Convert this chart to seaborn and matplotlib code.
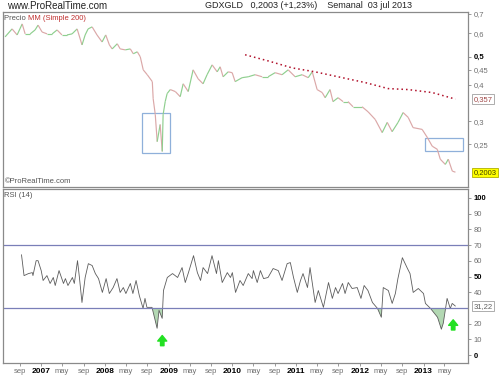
import numpy as np
import pandas as pd
import seaborn as sns
import matplotlib
matplotlib.use('Agg')
import matplotlib.pyplot as plt
import matplotlib.dates as mdates
from matplotlib.collections import LineCollection
from matplotlib.patches import Rectangle

# weekly closes (GDX / GLD ratio)
price_dates = ['2006-06-08', '2006-07-18', '2006-08-16', '2006-09-14', '2006-10-01', '2006-10-30',
               '2006-11-27', '2006-12-14', '2007-01-06', '2007-02-04', '2007-03-05', '2007-04-02',
               '2007-04-30', '2007-05-29', '2007-06-27', '2007-07-26', '2007-08-23', '2007-09-10',
               '2007-09-27', '2007-10-20', '2007-11-17', '2007-12-16', '2008-01-06', '2008-01-27',
               '2008-02-12', '2008-03-12', '2008-03-29', '2008-04-27', '2008-05-26', '2008-06-12',
               '2008-07-05', '2008-07-22', '2008-08-08', '2008-08-31', '2008-09-29', '2008-10-04',
               '2008-10-16', '2008-10-27', '2008-11-13', '2008-11-25', '2008-11-30', '2008-12-12',
               '2008-12-23', '2009-01-10', '2009-02-08', '2009-03-08', '2009-03-25', '2009-04-23',
               '2009-05-21', '2009-06-19', '2009-07-17', '2009-08-09', '2009-09-07', '2009-10-06',
               '2009-10-23', '2009-11-09', '2009-12-08', '2009-12-31', '2010-01-17', '2010-02-26',
               '2010-04-02', '2010-05-11', '2010-06-21', '2010-07-25', '2010-09-03', '2010-10-13',
               '2010-11-17', '2010-12-27', '2011-02-05', '2011-03-12', '2011-04-04', '2011-05-02',
               '2011-05-31', '2011-06-17', '2011-07-15', '2011-08-01', '2011-08-30', '2011-09-28',
               '2011-10-26', '2011-11-24', '2012-01-15', '2012-02-18', '2012-03-30', '2012-05-09',
               '2012-06-07', '2012-07-05', '2012-08-08', '2012-09-06', '2012-10-05', '2012-11-02',
               '2012-12-24', '2013-01-22', '2013-02-20', '2013-03-21', '2013-04-07', '2013-05-06',
               '2013-05-23', '2013-06-15', '2013-07-03']
price_close = [0.584, 0.622, 0.593, 0.647, 0.598, 0.598,
               0.617, 0.641, 0.607, 0.598, 0.598, 0.617,
               0.593, 0.593, 0.598, 0.622, 0.548, 0.593,
               0.622, 0.632, 0.593, 0.561, 0.593, 0.548,
               0.531, 0.553, 0.531, 0.527, 0.531, 0.511,
               0.519, 0.499, 0.450, 0.433, 0.410, 0.358,
               0.316, 0.255, 0.292, 0.236, 0.316, 0.350,
               0.373, 0.385, 0.379, 0.364, 0.403, 0.379,
               0.450, 0.419, 0.403, 0.433, 0.468, 0.443,
               0.461, 0.426, 0.443, 0.440, 0.410, 0.423,
               0.426, 0.433, 0.426, 0.426, 0.440, 0.433,
               0.450, 0.426, 0.433, 0.423, 0.443, 0.385,
               0.376, 0.361, 0.385, 0.350, 0.361, 0.350,
               0.350, 0.336, 0.336, 0.323, 0.304, 0.274,
               0.297, 0.276, 0.297, 0.321, 0.309, 0.285,
               0.281, 0.264, 0.246, 0.240, 0.222, 0.213,
               0.222, 0.202, 0.2003]

# 200 period simple moving average (only drawn where it exists)
ma_dates = ['2010-03-15', '2010-07-25', '2010-12-10', '2011-04-20', '2011-08-30',
            '2012-02-01', '2012-06-12', '2012-10-05', '2013-02-20', '2013-07-03']
ma_values = [0.507, 0.483, 0.457, 0.443, 0.426, 0.407, 0.388, 0.385, 0.376, 0.357]

# RSI(14), x as decimal years
rsi_years = [2006.69, 2006.73, 2006.80, 2006.86, 2006.87, 2006.92, 2006.95, 2007.00, 2007.03, 2007.09,
             2007.14, 2007.19, 2007.22, 2007.28, 2007.35, 2007.38, 2007.42, 2007.49, 2007.52, 2007.57,
             2007.60, 2007.64, 2007.69, 2007.74, 2007.80, 2007.85, 2007.90, 2007.96, 2008.02, 2008.07,
             2008.13, 2008.19, 2008.24, 2008.29, 2008.33, 2008.40, 2008.44, 2008.49, 2008.54, 2008.60,
             2008.63, 2008.66, 2008.74, 2008.82, 2008.85, 2008.90, 2008.92, 2008.98, 2009.06, 2009.14,
             2009.21, 2009.26, 2009.31, 2009.39, 2009.45, 2009.50, 2009.54, 2009.61, 2009.68, 2009.75,
             2009.78, 2009.84, 2009.92, 2009.97, 2010.00, 2010.05, 2010.12, 2010.17, 2010.25, 2010.31,
             2010.33, 2010.39, 2010.44, 2010.49, 2010.56, 2010.64, 2010.72, 2010.78, 2010.86, 2010.91,
             2010.96, 2011.02, 2011.07, 2011.11, 2011.18, 2011.22, 2011.30, 2011.35, 2011.43, 2011.51,
             2011.57, 2011.62, 2011.66, 2011.73, 2011.77, 2011.82, 2011.88, 2011.96, 2012.02, 2012.07,
             2012.13, 2012.20, 2012.28, 2012.34, 2012.37, 2012.45, 2012.51, 2012.56, 2012.60, 2012.67,
             2012.75, 2012.79, 2012.84, 2012.92, 2013.00, 2013.03, 2013.11, 2013.22, 2013.28, 2013.31,
             2013.37, 2013.42, 2013.45, 2013.50]
rsi_values = [63.9, 50.6, 51.9, 52.5, 50.6, 60.1, 60.1, 53.8, 47.5, 50.6,
              45.6, 49.4, 44.3, 53.8, 45.6, 48.7, 44.3, 49.4, 45.6, 60.1,
              49.4, 33.5, 49.4, 58.2, 57.0, 51.9, 48.7, 39.9, 48.7, 39.2,
              43.0, 48.7, 39.9, 43.0, 39.2, 45.6, 39.2, 47.5, 38.0, 29.7,
              36.1, 30.4, 30.4, 17.1, 28.5, 23.4, 41.1, 49.4, 51.9, 49.4,
              55.7, 46.2, 52.5, 63.3, 52.5, 47.5, 55.7, 51.9, 63.3, 51.9,
              60.1, 46.2, 52.5, 49.4, 52.5, 39.9, 47.5, 44.3, 51.9, 48.7,
              53.8, 46.2, 53.8, 48.7, 49.4, 55.1, 53.8, 47.5, 58.2, 58.9,
              49.4, 39.9, 47.5, 51.9, 43.0, 55.7, 33.5, 41.1, 30.4, 46.2,
              36.1, 43.0, 39.2, 45.6, 39.2, 46.2, 42.4, 43.0, 36.1, 44.3,
              41.1, 33.5, 29.7, 24.1, 43.0, 41.1, 32.9, 39.2, 48.7, 62.0,
              55.1, 51.9, 39.9, 42.4, 39.2, 32.9, 29.7, 24.1, 16.5, 20.3,
              36.1, 29.7, 32.9, 31.22]

price_ticks = [0.25, 0.3, 0.4, 0.45, 0.5, 0.6, 0.7]
price_tick_labels = ['0,25', '0,3', '0,4', '0,45', '0,5', '0,6', '0,7']
rsi_ticks = [0, 10, 20, 40, 50, 60, 70, 80, 90, 100]
rsi_tick_labels = ['0', '10', '20', '40', '50', '60', '70', '80', '90', '100']

x_tick_dates = ['2006-09-01', '2007-01-01', '2007-05-01', '2007-09-01', '2008-01-01', '2008-05-01',
                '2008-09-01', '2009-01-01', '2009-05-01', '2009-09-01', '2010-01-01', '2010-05-01',
                '2010-09-01', '2011-01-01', '2011-05-01', '2011-09-01', '2012-01-01', '2012-05-01',
                '2012-09-01', '2013-01-01', '2013-05-01']
x_tick_labels = ['sep', '2007', 'may', 'sep', '2008', 'may', 'sep', '2009', 'may', 'sep', '2010', 'may',
                 'sep', '2011', 'may', 'sep', '2012', 'may', 'sep', '2013', 'may']

last_price, last_ma, last_rsi = 0.2003, 0.357, 31.22
rsi_upper, rsi_lower = 70, 30
# drawn highlight boxes: (start, end, low price, high price)
highlight_boxes = [('2008-08-03', '2009-01-10', 0.234, 0.321),
                   ('2013-01-11', '2013-08-16', 0.236, 0.262)]
arrow_dates = ['2008-11-25', '2013-06-20']
arrow_levels = [(6, 12.5), (16, 22.5)]


def year_to_date(y):
    start = pd.Timestamp(int(y), 1, 1)
    return start + pd.Timedelta(days=(y - int(y)) * 365.25)


sns.set_theme(style='white')
plt.rcParams['font.family'] = ['Liberation Sans', 'DejaVu Sans']

frame = '#8a8a8a'
tick_col = '#707070'

fig = plt.figure(figsize=(5, 3.75), dpi=100)
ax1 = fig.add_axes([0.006, 0.501, 0.930, 0.467])
ax2 = fig.add_axes([0.006, 0.032, 0.930, 0.464], sharex=ax1)

# price: colored up / down segments
pdates = mdates.date2num(pd.to_datetime(price_dates))
pclose = np.array(price_close)
segs = [[(pdates[i - 1], pclose[i - 1]), (pdates[i], pclose[i])] for i in range(1, len(pclose))]
cols = ['#8fcf8f' if pclose[i] >= pclose[i - 1] else '#dba8a8' for i in range(1, len(pclose))]
ax1.add_collection(LineCollection(segs, colors=cols, linewidths=0.85))
ax1.set_yscale('log')

sns.lineplot(x=pd.to_datetime(ma_dates), y=ma_values, ax=ax1, color='#b0102a',
             linewidth=1.1, linestyle=(0, (1, 2)))

for start, end, lo, hi in highlight_boxes:
    x0 = mdates.date2num(pd.Timestamp(start))
    x1 = mdates.date2num(pd.Timestamp(end))
    ax1.add_patch(Rectangle((x0, lo), x1 - x0, hi - lo, fill=False,
                            edgecolor='#8fb0da', linewidth=0.9))

ax1.set_xlim(pd.Timestamp('2006-05-27'), pd.Timestamp('2013-09-13'))
ax1.set_ylim(0.178, 0.711)
ax1.yaxis.tick_right()
ax1.yaxis.set_major_locator(matplotlib.ticker.FixedLocator(price_ticks))
ax1.yaxis.set_minor_locator(matplotlib.ticker.NullLocator())
ax1.set_yticklabels(price_tick_labels)
ax1.tick_params(axis='y', right=True, length=2.5, width=0.6, color=frame, pad=1.5,
                labelsize=5.5, labelcolor=tick_col)
ax1.tick_params(axis='x', bottom=False, labelbottom=False)
for lab in ax1.get_yticklabels():
    if lab.get_text() == '0,5':
        lab.set_fontweight('bold')
        lab.set_color('black')

ax1.text(1.012, last_ma, '0,357', transform=ax1.get_yaxis_transform(), fontsize=5.5,
         color='#a04848', va='center', ha='left',
         bbox=dict(boxstyle='square,pad=0.15', facecolor='white', edgecolor='#a0a0a0', lw=0.6))
ax1.text(1.012, last_price, '0,2003', transform=ax1.get_yaxis_transform(), fontsize=5.5,
         color='#404000', va='center', ha='left',
         bbox=dict(boxstyle='square,pad=0.15', facecolor='#ffff00', edgecolor='#b0b000', lw=0.6))

t1 = ax1.text(0.003, 0.985, 'Precio ', transform=ax1.transAxes, fontsize=5.5,
              color='#555555', va='top', ha='left')
ax1.annotate('MM (Simple 200)', xy=(1, 0), xycoords=t1, fontsize=5.5, color='#c03030',
             va='bottom', ha='left')
ax1.text(0.003, 0.012, '\u00a9ProRealTime.com', transform=ax1.transAxes, fontsize=5.5,
         color='#555555', va='bottom', ha='left')

# RSI panel
rdates = pd.Series([year_to_date(y) for y in rsi_years])
rvals = np.array(rsi_values)
sns.lineplot(x=rdates, y=rvals, ax=ax2, color='#5c5c5c', linewidth=0.6)
ax2.fill_between(rdates, rvals, rsi_lower, where=rvals < rsi_lower, interpolate=True,
                 color='#b3d8b3', linewidth=0)
ax2.axhline(rsi_upper, color='#7a7fb8', linewidth=0.9)
ax2.axhline(rsi_lower, color='#7a7fb8', linewidth=0.9)

for d, (y0, y1) in zip(arrow_dates, arrow_levels):
    ax2.annotate('', xy=(pd.Timestamp(d), y1), xytext=(pd.Timestamp(d), y0),
                 arrowprops=dict(facecolor='#22e022', edgecolor='#22e022', width=2.5,
                                 headwidth=6.5, headlength=4))

ax2.set_ylim(-5, 105.7)
ax2.yaxis.tick_right()
ax2.set_yticks(rsi_ticks)
ax2.set_yticklabels(rsi_tick_labels)
ax2.tick_params(axis='y', right=True, length=2.5, width=0.6, color=frame, pad=1.5,
                labelsize=5.5, labelcolor=tick_col)
for lab in ax2.get_yticklabels():
    if lab.get_text() in ('0', '50', '100'):
        lab.set_fontweight('bold')
        lab.set_color('black')
ax2.text(1.012, last_rsi, '31,22', transform=ax2.get_yaxis_transform(), fontsize=5.5,
         color='#606060', va='center', ha='left',
         bbox=dict(boxstyle='square,pad=0.15', facecolor='white', edgecolor='#a0a0a0', lw=0.6))
ax2.text(0.003, 0.985, 'RSI (14)', transform=ax2.transAxes, fontsize=5.5,
         color='#555555', va='top', ha='left')

ax2.set_xticks(pd.to_datetime(x_tick_dates))
ax2.set_xticklabels(x_tick_labels)
ax2.tick_params(axis='x', bottom=True, length=2.5, width=0.6, color=frame, pad=1,
                labelsize=5.5, labelcolor=tick_col)
for lab in ax2.get_xticklabels():
    if lab.get_text().isdigit():
        lab.set_fontweight('bold')
        lab.set_color('black')
        lab.set_fontsize(6)
ax2.set_xlabel('')
ax2.set_ylabel('')
ax1.set_xlabel('')
ax1.set_ylabel('')

for ax in (ax1, ax2):
    for sp in ax.spines.values():
        sp.set_color(frame)
        sp.set_linewidth(0.9)

fig.text(0.014, 0.985, 'www.ProRealTime.com', fontsize=7, color='#222222', va='center', ha='left')
fig.text(0.41, 0.985, 'GDXGLD   0,2003 (+1,23%)    Semanal  03 jul 2013', fontsize=6.5,
         color='#222222', va='center', ha='left')

fig.savefig('out.png', dpi=100)
